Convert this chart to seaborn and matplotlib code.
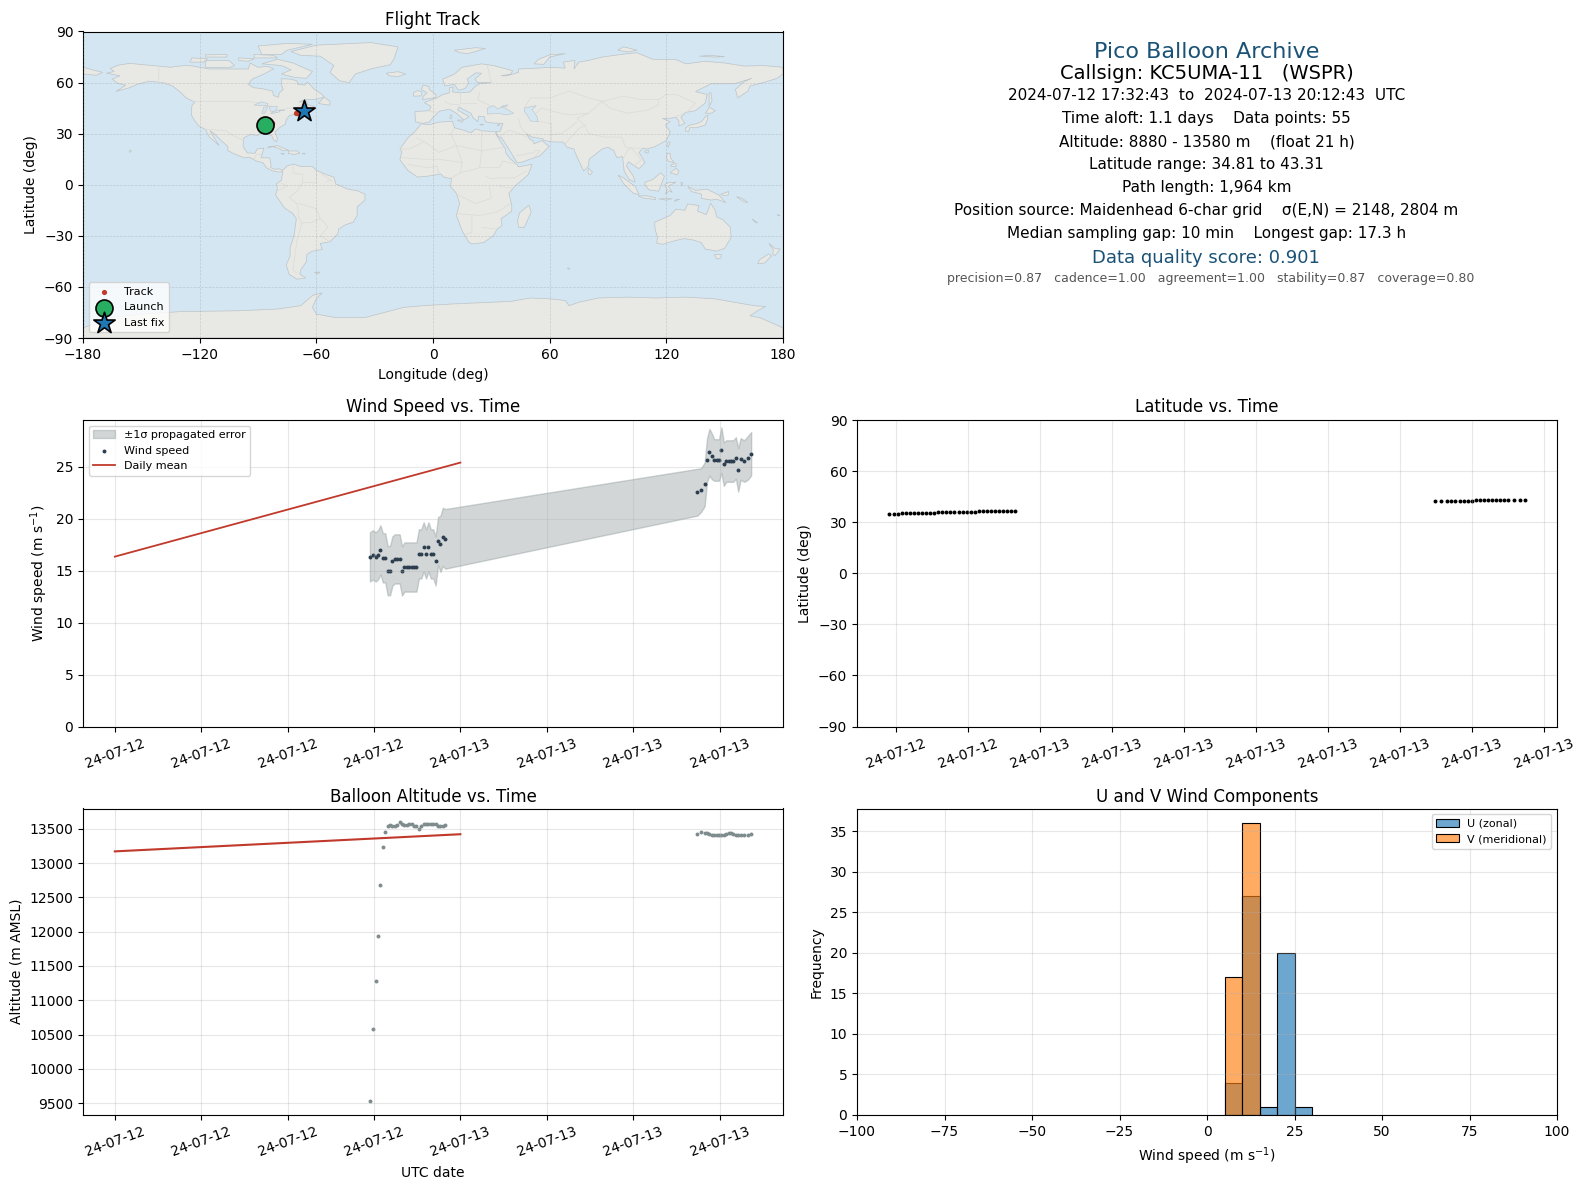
import matplotlib
matplotlib.use("Agg")
import matplotlib.pyplot as plt
import matplotlib.dates as mdates
import numpy as np
import pandas as pd
import seaborn as sns

# fix times (UTC), two stretches of the flight
day1_clock = ['17:43', '17:55', '18:07', '18:17', '18:27', '18:37', '18:47', '18:57',
              '19:07', '19:17', '19:27', '19:37', '19:47', '19:57', '20:07', '20:17',
              '20:27', '20:37', '20:47', '20:57', '21:07', '21:17', '21:27', '21:37',
              '21:47', '21:57', '22:07', '22:17', '22:27', '22:37', '22:47', '22:57']
day2_clock = ['16:28', '16:43', '16:58', '17:08', '17:18', '17:28', '17:38', '17:48',
              '17:58', '18:08', '18:18', '18:28', '18:38', '18:48', '18:58', '19:08',
              '19:18', '19:28', '19:43', '19:58', '20:12']

wind_speed = [16.32, 16.52, 16.32, 16.52, 17.0, 16.23, 16.23, 15.0, 15.0, 15.94, 16.13,
              16.13, 16.13, 14.97, 15.35, 15.35, 15.35, 15.35, 15.35, 15.35, 16.61, 16.61,
              17.29, 16.61, 17.29, 16.61, 16.61, 15.94, 17.87, 17.58, 18.26, 18.06,
              22.55, 22.75, 23.3, 25.65, 26.4, 26.0, 25.65, 25.65, 25.65, 26.6, 25.25,
              25.55, 25.55, 25.55, 25.55, 25.85, 24.7, 25.75, 25.55, 25.85, 26.25]
wind_sigma = [2.37, 2.37, 2.37, 2.37, 2.37, 2.37, 2.37, 2.37, 2.37, 2.37, 2.37,
              2.37, 2.37, 2.37, 2.37, 2.37, 2.37, 2.37, 2.37, 2.37, 2.37, 2.37,
              2.37, 2.37, 2.37, 2.37, 2.37, 2.37, 2.3, 2.7, 2.8, 2.87,
              2.25, 2.1, 2.1, 2.1, 2.25, 2.2, 2.0, 2.0, 2.0, 2.2, 2.1,
              2.0, 2.0, 2.0, 2.0, 2.0, 2.1, 2.0, 2.0, 2.1, 2.1]

altitude = [9530, 10580, 11280, 11940, 12680, 13230, 13450, 13539, 13549, 13534, 13534,
            13558, 13592, 13568, 13553, 13553, 13568, 13568, 13544, 13539, 13500, 13539,
            13568, 13573, 13573, 13568, 13568, 13563, 13539, 13539, 13539, 13553,
            13427, 13456, 13437, 13437, 13427, 13413, 13408, 13403, 13403, 13403, 13408,
            13427, 13437, 13432, 13418, 13408, 13408, 13403, 13403, 13408, 13418]

latitude = [34.81, 34.95, 34.95, 35.3, 35.3, 35.3, 35.3, 35.3, 35.3, 35.3, 35.3, 35.3,
            35.9, 35.9, 35.9, 35.9, 35.9, 35.9, 35.9, 35.9, 35.9, 35.9,
            36.45, 36.45, 36.45, 36.45, 36.45, 36.45, 36.45, 36.45, 36.45, 36.45,
            42.35, 42.35, 42.35, 42.35, 42.35, 42.35, 42.35, 42.35, 42.35,
            42.9, 42.9, 42.9, 42.9, 42.9, 42.9, 42.9, 42.9, 42.9, 42.9, 43.1, 43.31]

longitude = [-86.2, -86.1, -86.0, -85.9, -85.8, -85.7, -85.6, -85.5, -85.4, -85.3, -85.2,
             -85.1, -85.0, -84.9, -84.8, -84.7, -84.6, -84.5, -84.4, -84.3, -84.2, -84.1,
             -84.0, -83.9, -83.8, -83.7, -83.6, -83.5, -83.3, -83.2, -83.0, -82.9,
             -70.3, -70.1, -69.9, -69.7, -69.5, -69.3, -69.1, -68.9, -68.7, -68.6, -68.4,
             -68.2, -68.0, -67.8, -67.6, -67.4, -67.2, -67.0, -66.9, -66.7, -66.6]

daily_times = ['2024-07-12 00:00', '2024-07-13 00:00']
daily_wind = [16.35, 25.4]
daily_alt = [13170, 13420]

u_edges = [5, 10, 15, 20, 25, 30]
u_centers = [7.5, 12.5, 17.5, 22.5, 27.5]
u_counts = [4, 27, 1, 20, 1]
v_edges = [5, 10, 15]
v_centers = [7.5, 12.5]
v_counts = [17, 36]

# rough coastlines, lon/lat
land_polys = [
    # north america
    [(-168,65.5),(-164,66.5),(-166,68.3),(-162,70.2),(-156,71.3),(-148,70.4),(-141,69.7),(-135,69),(-128,70),
     (-124,69.8),(-115,68),(-108,68),(-100,68),(-95,68),(-94,71.5),(-90,69),(-85,69.5),(-82,68),(-87,65),(-93,62),
     (-95,59),(-92.5,57),(-88,56.5),(-82.5,55),(-82,52.5),(-79.5,51.3),(-79,54),(-77,56),(-78,58.5),(-78,62.3),
     (-73,62),(-70,61),(-69.5,59),(-66,58.5),(-64.5,60.3),(-61.5,56.5),(-57,53),(-56,51.5),(-60,50.2),(-66,50),
     (-69,48.5),(-65,49),(-64.5,47),(-61,46),(-65,44),(-67,44.8),(-70,43.5),(-70.5,41.7),(-74,40.5),(-75.5,38),
     (-76,35.5),(-79,33.5),(-81.3,31),(-80,27),(-80.5,25.2),(-82,26.5),(-83,29),(-85,29.7),(-89,30.2),(-90,29),
     (-94,29.5),(-97.3,27.5),(-97.7,22.5),(-95.5,18.7),(-91.5,18.5),(-90.5,21),(-87,21.5),(-88,17.5),(-88.5,15.8),
     (-84,15.8),(-83.3,12),(-83.5,10),(-81,9),(-79.5,9.5),(-77.3,8.5),(-78,7.5),(-80,7.5),(-83,8.3),(-85.7,10),
     (-87.5,13),(-91,14),(-94.5,16.2),(-97,15.8),(-102,18),(-105.5,20),(-105.5,22.5),(-109,26),(-112.5,30),
     (-114.7,31.7),(-112.5,27.5),(-110,23),(-112,25),(-115,28),(-117,32.5),(-120.5,34.5),(-122.5,37.5),(-124.3,41),
     (-124,46.5),(-122.5,48.5),(-127,51),(-130,54.5),(-134,58),(-139,60),(-146,60.8),(-152,59),(-156,57),(-163,54.8),
     (-158,58.5),(-162,59.5),(-165,62),(-161,64),(-168,65.5)],
    # south america
    [(-77.3,8.5),(-75,11),(-72,12.2),(-68,10.7),(-62,10.7),(-60,8.5),(-55,6),(-51,4.5),(-50,0.5),(-44,-2.5),(-39,-3.5),
     (-35,-5.5),(-35,-9),(-39,-13),(-39,-18),(-41,-22),(-45,-23.5),(-48.5,-26),(-49,-29),(-53,-33.5),(-58,-34.5),
     (-57,-38),(-62,-39),(-65,-41),(-65,-45),(-68,-50),(-68.5,-52.5),(-65.5,-54.7),(-70,-55.5),(-74,-52.5),(-75.5,-47),
     (-73.5,-42),(-73.5,-37),(-71.5,-30),(-70.3,-20),(-72,-17),(-76.5,-13.5),(-81,-6),(-80,-2.5),(-80.5,0.5),(-78,2.5),
     (-77.5,6),(-77.3,8.5)],
    # africa
    [(-6,35.8),(-2,35.2),(3,36.8),(10,37.3),(11,33.5),(15,32.3),(19.5,30.5),(22,32.8),(25,31.7),(32,31.2),(32.5,29.5),
     (35.5,24),(37.3,21),(37.5,18.5),(39.5,15.5),(43,12),(44,10.5),(51,12),(49,6),(42,-1),(39,-5),(40.5,-12),
     (40.5,-15.5),(35,-20),(35.5,-24),(33,-26),(31,-30),(26,-34),(20,-34.8),(18.3,-33.5),(15,-27),(12,-18),(13.7,-11),
     (12,-5),(9,-1),(9.5,3.5),(5.5,4.5),(4,6.3),(-3,5),(-8,4.5),(-13,8.5),(-17,14.7),(-16,19.5),(-17,21),(-13,27.5),
     (-9.5,31),(-6,35.8)],
    # eurasia
    [(-9,37),(-9.3,43),(-2,43.5),(-1,46),(-4.5,48.3),(2,51),(5,53),(8.5,54),(8.5,57),(10.5,57.5),(10,54.5),(14,54),
     (19,54.5),(21.5,57.5),(24,59.3),(30,60),(23,60),(21.5,62),(25,65.5),(22,65.7),(17.5,62),(18.5,60),(16.5,56.5),
     (13,55.5),(11,59),(6,58),(5,62),(11,65),(15,69),(25,71),(31,70),(41,67),(40,65),(35,64),(38,64),(44,66),(44,68),
     (54,68.5),(60,69),(68,68.5),(67,72),(73,73),(72.5,68),(75,72),(80,73),(87,75),(100,77),(105,77.5),(113,73.7),
     (125,73.5),(130,71),(140,72.5),(150,71.5),(160,69.7),(170,70),(180,69),(180,65),(177,62.5),(170,60),(163,58),
     (162,55),(156.7,51),(155.5,56),(160,60.5),(164,62.5),(155,59.3),(143,59.3),(135,54.7),(141,53),(140,48),(135,43.5),
     (130,42.5),(127.5,39.7),(129.5,36),(126.5,34.5),(126.5,37.5),(125,39.5),(121.5,39),(118,39),(122,37),(119.5,35),
     (122,31),(120,26),(114,22.3),(110,21),(108,21.5),(106,19),(109,13),(106,9.5),(105,10),(100.5,13.5),(99.5,11),
     (103,5),(104,1.5),(101,3),(98.3,8),(97.5,16.5),(94.5,16),(93,20),(90,22),(87,21),(80.3,15),(80,11),(77.5,8),
     (73,19),(72.5,21),(69,22),(67,25),(61.5,25.2),(57,26),(56.5,27),(51,28),(48,30),(50,26.5),(51.3,26),(52,24),
     (56,26),(59.7,22.5),(55,17),(45,13),(43.2,13),(39,21),(35,28),(34.3,27.8),(33,29.5),(32.5,31.2),(34.5,31.3),
     (36,36),(30,36.3),(27,37),(26.3,40),(23.5,40.3),(23,37),(20.5,39.5),(19.5,42),(13.5,45.5),(12.5,44),(18.5,40),
     (16,38),(12,42),(8.5,44.3),(3.5,43.3),(0,39.5),(-2,36.8),(-5.5,36),(-9,37)],
    # chukotka past the date line
    [(-180,69),(-175,67.5),(-170,66),(-173,64.3),(-180,65)],
    # australia
    [(114,-22),(114.2,-26),(115.5,-31),(115,-34.3),(118,-35),(124,-33),(129,-31.6),(134,-32.5),(138,-34),(140,-37.8),
     (146,-39),(150,-37.3),(153.3,-31),(153,-25),(149,-20.5),(146,-19),(145,-14.7),(142.7,-10.8),(141.5,-15),
     (140.5,-17.5),(136,-15.5),(136.8,-12.2),(131,-11.3),(129.5,-15),(125,-14.3),(122,-18),(117,-20.5),(114,-22)],
    # antarctica
    [(-180,-84),(-165,-78),(-150,-76),(-130,-74.5),(-100,-74),(-80,-73),(-68,-71),(-62,-65),(-57,-63.5),(-60,-67),
     (-62,-72),(-60,-76),(-50,-78),(-35,-78),(-25,-75),(-15,-72),(-5,-71),(10,-70),(30,-69),(40,-68.5),(50,-66.5),
     (60,-67),(68,-68),(70,-71),(75,-69),(85,-66.5),(100,-66),(115,-66.5),(130,-66),(145,-67),(155,-69),(165,-71),
     (171,-71.5),(167,-74),(163,-77),(168,-78),(180,-84),(180,-90),(-180,-90)],
    # islands
    [(-73,78.2),(-60,82),(-32,83.5),(-18,81),(-20,74),(-22,70.5),(-32,68),(-40,65),(-43,60),(-48,61),(-53,66),(-51,70),
     (-58,75.5),(-68,76)],
    [(-80,73.7),(-72,71.5),(-67,69),(-62,66.5),(-65,62.5),(-71,63),(-78,65),(-73,67.5),(-78,70),(-88,71)],
    [(-117,69),(-105,68.7),(-102,70),(-105,73),(-117,72.8)],
    [(-88,76.5),(-78,76.5),(-75,79),(-62,82.5),(-75,83),(-90,81.5)],
    [(-125,72),(-118,72),(-116,74),(-124,74.5)],
    [(-92,74.5),(-80,74.5),(-82,76),(-92,76.5)],
    [(-117,75),(-106,75),(-106,76.5),(-117,76.3)],
    [(-100,73),(-95,72.5),(-92,74),(-100,74.5)],
    [(-59,47.7),(-53,46.7),(-53,49),(-56,51.5)],
    [(-85,22),(-80,23),(-74.2,20.2),(-77.5,19.9),(-78,20.7),(-82,22.4)],
    [(-74.4,19.8),(-70,19.9),(-68.4,18.5),(-71.5,17.8),(-74.4,18.4)],
    [(-78.3,18.4),(-76.3,18.2),(-77,17.8)],
    [(-67.2,18.4),(-65.7,18.4),(-66,18)],
    [(-156,19),(-155,19.7),(-156,20.5)],
    [(-24,65.5),(-18,66.4),(-14,65),(-18,63.5),(-22.5,64)],
    [(-5.5,50),(1.5,51.2),(1.5,53),(-2,56),(-2,57.6),(-5,58.6),(-6,56),(-3,54),(-5,52)],
    [(-10,52),(-6,52.2),(-5.6,54.5),(-8,55.3),(-10,54)],
    [(11,79),(22,80.5),(27,80),(18,77),(14,77.5)],
    [(52,71),(57,70.7),(60,75),(68,77),(60,76.3),(54,73.5)],
    [(95,79),(100,78),(105,79),(98,81)],
    [(137,75.5),(145,75),(150,75.3),(142,76)],
    [(142,46),(143.5,49),(143,54),(142,54),(142,50)],
    [(130,31.5),(131.5,31.3),(132,33.5),(135.5,33.5),(140,35),(141,38),(141.5,41),(140,40),(138.5,37.5),(136,36),(132,35),(130,33.5)],
    [(140,42),(143,42),(145.3,43.5),(142,45.5),(141,43.5)],
    [(120.2,23),(121,22),(122,25),(121,25.2)],
    [(108.7,19.3),(110.5,18.5),(111,20),(109.5,20)],
    [(120,16),(120.5,18.5),(122,18.4),(122,16),(124,13),(121,13.8)],
    [(122,7),(125.5,5.8),(126.5,8),(125,9.7),(123,8)],
    [(122,11),(125,10.5),(125,12.5),(123,12)],
    [(109,1.5),(113,3),(117,7),(119,5),(117.7,1),(116,-3.8),(111,-3),(109,0)],
    [(95.2,5.6),(98,4),(104,-1),(106,-5.8),(103,-5),(98.5,0)],
    [(105.5,-6.5),(110,-6.5),(114.5,-7.7),(114.5,-8.7),(108,-7.8)],
    [(119.5,-5.5),(120.5,-3),(119,0),(121,1.2),(125,1.5),(121,-0.8),(123,-4.5),(121.5,-3.5)],
    [(131,-1),(135,-3.3),(141,-2.6),(147,-6),(150.5,-10.5),(146,-8.5),(143,-9),(138,-8),(138,-5.5),(133,-4)],
    [(116,-8.3),(119,-8.2),(123,-8.2),(120,-9)],
    [(124,-9.8),(127,-8.5),(125,-8.7)],
    [(127.5,1.5),(128.5,1),(128,-0.8)],
    [(148,-5.5),(152,-4),(152,-6),(149,-6.3)],
    [(156,-7),(159,-8),(162,-10.5),(160,-10)],
    [(80,9.7),(82,7.5),(81,6),(80,6.2),(79.7,8)],
    [(49.3,-12),(50.5,-16),(47,-25),(44,-25),(43.5,-21),(44.5,-16.5)],
    [(144.7,-41),(148.3,-41),(148,-43),(146,-43.6)],
    [(172.7,-34.4),(176,-37.5),(178.5,-37.7),(176,-41.5),(174.8,-41),(175,-38)],
    [(172.7,-40.6),(174.2,-41.7),(170.5,-46),(167,-46.3),(168,-44)],
    [(164,-20),(167,-22.3),(166,-22.3)],
    [(177,-17.5),(178.5,-18),(177.5,-18.3)],
    [(69,-49),(70.3,-49),(70,-49.7)],
    [(-61,-51.5),(-58,-51.3),(-59,-52.2)],
    [(9,41),(9.7,41),(9.6,39),(8.5,39)],
    [(12.5,38),(15.5,38),(15,36.7)],
    [(24,35.4),(26,35.3),(25,35)],
    [(33,35),(34.5,35.5),(33.5,34.6)],
]

water_polys = [
    # black sea, azov, caspian
    [(28,41.5),(28,45),(31,46.5),(33.5,44.5),(35,45.5),(37,45),(41.5,42),(38,41),(33,42)],
    [(35,46),(38.5,47),(37.5,45.7)],
    [(47,45),(53,46.5),(51,44),(53.5,40),(54,37),(50,37.5),(49,40),(47,43)],
    # great lakes
    [(-92,46.8),(-88,48.7),(-85,47.7),(-85,46.6),(-88,46.6)],
    [(-88,42),(-86.5,42),(-85,45.7),(-87,45.7)],
    [(-84.5,46),(-80,45.8),(-81,43.2),(-83.5,43.2)],
    [(-83.5,41.6),(-79,42.8),(-79,43.6),(-76.5,43.5),(-76.5,44),(-80,43.8),(-83,42.3)],
]

border_lines = [
    [(-123,49),(-95,49),(-89,48),(-83,46),(-82.5,42),(-79,43),(-75,45),(-71,45),(-67.5,47),(-67,45)],
    [(-141,70),(-141,60),(-135,59)],
    [(-117,32.5),(-106.5,31.8),(-103,29),(-97.3,26)],
    [(-92,14.5),(-91,17.5),(-88.5,18)],
    [(-72,12),(-72,7),(-67,6),(-67,1.5),(-70,-4),(-74,-7.5),(-70,-11),(-69,-16),(-69.5,-18),(-67.5,-22.5),(-70,-33),(-72,-50),(-70,-52)],
    [(-60,8),(-60,1),(-67,1.5)],
    [(-57.5,-20),(-54,-25),(-58,-30),(-53,-33.5)],
    [(-69,-11),(-60,-14),(-58,-20),(-62,-22),(-67,-22.5)],
    [(-80,-3.5),(-75,-1),(-78,1)],
    [(-55,2),(-52,2.5),(-57,6)],
    [(-8.7,27.7),(-4,25),(3,19),(12,23),(25,20),(36.5,22)],
    [(25,32),(25,20),(24,10),(34,10),(36,14),(43,12)],
    [(11,33),(9,30),(12,23),(15,13),(14,7),(9.5,4)],
    [(-17,21),(-12,21),(-5,25)],
    [(-16,16),(-5,15),(3,15),(15,13)],
    [(-13,12),(-3,10),(2,11),(3,6.5)],
    [(14,7),(24,10)],
    [(27,5),(30,3.5),(34,4),(42,4),(48,8)],
    [(29,-1),(30,-8),(22,-11),(13,-6)],
    [(34,-1),(41,-2)],
    [(12,-17),(24,-18),(33,-16),(40,-11)],
    [(20,-18),(20,-28),(17,-29)],
    [(25,-25),(32,-26)],
    [(28,70),(30,60)],
    [(24,54),(23,50),(30,46)],
    [(14,54),(14,48),(22,48)],
    [(6,49),(8,47.5),(13,47),(14,46)],
    [(-1.8,43.3),(3,42.5)],
    [(47,45),(50,51),(60,51),(70,55),(80,51),(87,49)],
    [(87,49),(98,52),(107,50),(116,50),(120,53),(125,53),(135,48),(131,43)],
    [(87,49),(91,45),(100,42),(111,44),(116,47),(116,50)],
    [(87,49),(80,42),(74,39),(78,35),(80,30),(88,28),(97,28),(99,22),(102,21.5),(108,21.5)],
    [(44,39),(45,34),(48,30)],
    [(61,25),(61,36),(53,37.5)],
    [(61,29.5),(66,30),(71,34),(74,37)],
    [(68,24),(71,28),(75,33),(78,35)],
    [(35,29),(39,32),(47,29),(48,28)],
    [(52,20),(55,20),(52,16)],
    [(43,17),(52,19)],
    [(53,42),(56,45),(62,43),(70,41),(80,42)],
    [(125,40),(130,42.5)],
    [(98,16),(100,20),(102,21.5),(105,18),(107,14.5),(103,11)],
]

summary_lines = [
    "Pico Balloon Archive",
    "Callsign: KC5UMA-11   (WSPR)",
    "2024-07-12 17:32:43  to  2024-07-13 20:12:43  UTC",
    "Time aloft: 1.1 days    Data points: 55",
    "Altitude: 8880 - 13580 m    (float 21 h)",
    "Latitude range: 34.81 to 43.31",
    "Path length: 1,964 km",
    "Position source: Maidenhead 6-char grid    σ(E,N) = 2148, 2804 m",
    "Median sampling gap: 10 min    Longest gap: 17.3 h",
    "Data quality score: 0.901",
    "precision=0.87   cadence=1.00   agreement=1.00   stability=0.87   coverage=0.80",
]
summary_y = [51.6, 73.9, 95.5, 118.4, 141.7, 164.5, 187.5, 210.5, 233.8, 258, 278.5]
summary_x = [1206.4, 1206.4, 1206.4, 1206.4, 1206.4, 1206.4, 1206.4, 1206.4, 1206.4, 1206.4, 1210.4]
summary_size = [16, 14, 11, 11, 11, 11, 11, 11, 11, 13, 9]
summary_color = ['#1a5276', 'black', 'black', 'black', 'black', 'black', 'black', 'black', 'black', '#1a5276', '#555555']

W, H = 1587, 1189
times = pd.to_datetime(['2024-07-12 ' + c for c in day1_clock] + ['2024-07-13 ' + c for c in day2_clock])
daily = pd.to_datetime(daily_times)
speed = np.array(wind_speed)
sigma = np.array(wind_sigma)


def box(left, top, right, bottom):
    return [left / W, 1 - bottom / H, (right - left) / W, (bottom - top) / H]


def date_axis(ax, hours):
    ax.xaxis.set_major_locator(mdates.HourLocator(byhour=range(0, 24, hours)))
    ax.xaxis.set_major_formatter(mdates.DateFormatter('%y-%m-%d'))
    ax.tick_params(axis='x', rotation=20)
    ax.grid(True, alpha=0.3)
    ax.set_xlabel('')


fig = plt.figure(figsize=(W / 100, H / 100), dpi=100)
ax_map = fig.add_axes(box(83, 31.5, 783, 338))
ax_txt = fig.add_axes(box(857, 31.5, 1557, 338))
ax_wind = fig.add_axes(box(83, 420, 783, 726.5))
ax_lat = fig.add_axes(box(857, 420, 1557, 726.5))
ax_alt = fig.add_axes(box(83, 808.5, 783, 1115))
ax_hist = fig.add_axes(box(857, 808.5, 1557, 1115))

# map
ax_map.set_facecolor('#d4e6f1')
for poly in land_polys:
    xs, ys = zip(*poly)
    ax_map.fill(xs, ys, facecolor='#e8e8e4', edgecolor='#bcc4c8', linewidth=0.5, zorder=1)
for line in border_lines:
    xs, ys = zip(*line)
    ax_map.plot(xs, ys, color='#dadad6', linewidth=0.5, zorder=1.5)
for poly in water_polys:
    xs, ys = zip(*poly)
    ax_map.fill(xs, ys, facecolor='#d4e6f1', edgecolor='#bcc4c8', linewidth=0.4, zorder=1.6)
sns.scatterplot(x=longitude, y=latitude, s=14, color='#c0392b', linewidth=0, ax=ax_map, zorder=3, label='Track')
ax_map.scatter(longitude[0], latitude[0], s=150, color='#27ae60', edgecolor='black', linewidth=1.2, zorder=4, label='Launch')
ax_map.scatter(longitude[-1], latitude[-1], s=260, marker='*', color='#1f77b4', edgecolor='black', linewidth=1.2, zorder=5, label='Last fix')
ax_map.set_xlim(-180, 180)
ax_map.set_ylim(-90, 90)
ax_map.set_xticks(np.arange(-180, 181, 60))
ax_map.set_yticks(np.arange(-90, 91, 30))
ax_map.grid(True, linestyle='--', linewidth=0.5, alpha=0.3, color='#888888', zorder=2)
ax_map.set_axisbelow(False)
ax_map.set_title('Flight Track', fontsize=12, pad=5)
ax_map.set_xlabel('Longitude (deg)', labelpad=4.7)
ax_map.set_ylabel('Latitude (deg)')
ax_map.legend(loc='lower left', fontsize=8)

# summary text
ax_txt.axis('off')
for txt, px, py, size, col in zip(summary_lines, summary_x, summary_y, summary_size, summary_color):
    ax_txt.text((px - 857) / 700, (338 - py) / 306.5, txt, transform=ax_txt.transAxes, ha='center',
                va='center', fontsize=size, color=col)

# wind
ax_wind.fill_between(times, speed - sigma, speed + sigma, color='#7f8c8d', alpha=0.35,
                     label='±1σ propagated error')
sns.scatterplot(x=times, y=speed, s=8, color='#2c3e50', linewidth=0, ax=ax_wind, label='Wind speed')
sns.lineplot(x=daily, y=daily_wind, color='#c0392b', linewidth=1.3, ax=ax_wind, label='Daily mean')
ax_wind.set_ylim(0, 29.5)
date_axis(ax_wind, 6)
ax_wind.set_title('Wind Speed vs. Time', fontsize=12)
ax_wind.set_ylabel('Wind speed (m s$^{-1}$)')
ax_wind.legend(loc='upper left', fontsize=8)

# latitude
sns.scatterplot(x=times, y=latitude, s=8, color='black', linewidth=0, ax=ax_lat)
ax_lat.set_ylim(-90, 90)
ax_lat.set_yticks(np.arange(-90, 91, 30))
date_axis(ax_lat, 3)
ax_lat.set_title('Latitude vs. Time', fontsize=12)
ax_lat.set_ylabel('Latitude (deg)')

# altitude
sns.scatterplot(x=times, y=altitude, s=8, color='#7f8c8d', linewidth=0, ax=ax_alt)
sns.lineplot(x=daily, y=daily_alt, color='#c0392b', linewidth=1.5, ax=ax_alt)
date_axis(ax_alt, 6)
ax_alt.set_title('Balloon Altitude vs. Time', fontsize=12, pad=5)
ax_alt.set_xlabel('UTC date', labelpad=4.7)
ax_alt.set_ylabel('Altitude (m AMSL)')

# u / v histogram
sns.histplot(x=u_centers, weights=u_counts, bins=u_edges, color='#1f77b4', alpha=0.65, edgecolor='black',
             linewidth=0.8, ax=ax_hist, label='U (zonal)')
sns.histplot(x=v_centers, weights=v_counts, bins=v_edges, color='#ff7f0e', alpha=0.65, edgecolor='black',
             linewidth=0.8, ax=ax_hist, label='V (meridional)')
ax_hist.set_xlim(-100, 100)
ax_hist.grid(True, alpha=0.3)
ax_hist.set_title('U and V Wind Components', fontsize=12, pad=5)
ax_hist.set_xlabel('Wind speed (m s$^{-1}$)', labelpad=4.7)
ax_hist.set_ylabel('Frequency')
ax_hist.legend(loc='upper right', fontsize=8)

fig.savefig('out.png', dpi=100)
